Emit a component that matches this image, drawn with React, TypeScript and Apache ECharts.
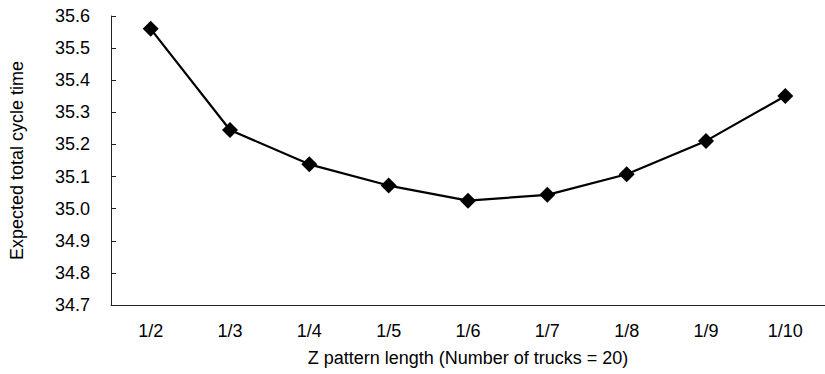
import React, { useEffect, useRef } from "react";
import * as echarts from "echarts";

const categories = ["1/2", "1/3", "1/4", "1/5", "1/6", "1/7", "1/8", "1/9", "1/10"];
const cycleTime = [35.56, 35.245, 35.138, 35.072, 35.025, 35.043, 35.107, 35.211, 35.351];
const yMin = 34.7;
const yMax = 35.6;
const yStep = 0.1;
const xTitle = "Z pattern length (Number of trucks = 20)";
const yTitle = "Expected total cycle time";

export default function App() {
  const ref = useRef<HTMLDivElement>(null);
  useEffect(() => {
    if (!ref.current) return;
    const chart = echarts.init(ref.current, undefined, { renderer: "svg" });
    const font = "'Liberation Sans', Arial, sans-serif";
    chart.setOption({
      animation: false,
      backgroundColor: "#ffffff",
      grid: { left: 111, top: 16, width: 719, height: 289, containLabel: false },
      xAxis: {
        type: "category",
        data: categories,
        boundaryGap: true,
        name: xTitle,
        nameLocation: "middle",
        nameGap: 44,
        nameTextStyle: { color: "#000", fontSize: 18, fontFamily: font },
        axisLine: { lineStyle: { color: "#222", width: 1 } },
        axisTick: { inside: true, length: 5, lineStyle: { color: "#222" } },
        axisLabel: { color: "#000", fontSize: 18, fontFamily: font, margin: 17 },
        splitLine: { show: false },
      },
      yAxis: {
        type: "value",
        min: yMin,
        max: yMax,
        interval: yStep,
        name: yTitle,
        nameLocation: "middle",
        nameGap: 85,
        nameRotate: 90,
        nameTextStyle: { color: "#000", fontSize: 18, fontFamily: font },
        axisLine: { show: true, lineStyle: { color: "#222", width: 1 } },
        axisTick: { show: true, inside: true, length: 5, lineStyle: { color: "#222" } },
        axisLabel: {
          color: "#000",
          fontSize: 18,
          fontFamily: font,
          margin: 21,
          formatter: (v: number) => v.toFixed(1),
        },
        splitLine: { show: false },
      },
      series: [
        {
          type: "line",
          data: cycleTime,
          symbol: "diamond",
          symbolSize: 16,
          lineStyle: { color: "#000", width: 2.2 },
          itemStyle: { color: "#000" },
        },
      ],
    });
    return () => chart.dispose();
  }, []);
  return (
    <div
      ref={ref}
      style={{ position: "fixed", left: 0, top: 0, width: 825, height: 374 }}
    />
  );
}
